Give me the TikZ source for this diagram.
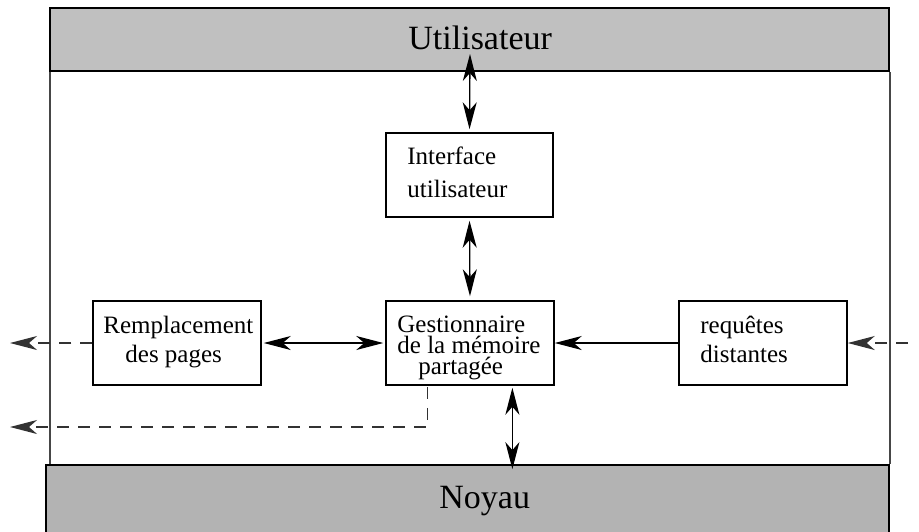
\documentclass[tikz,border=0pt]{standalone}
\usepackage{fontspec}
\setmainfont{Liberation Serif}
\usetikzlibrary{arrows.meta,calc}
\definecolor{userfill}{RGB}{192,192,192}
\definecolor{kernfill}{RGB}{179,179,179}
\definecolor{framegray}{RGB}{70,70,70}
\definecolor{dashgray}{RGB}{50,50,50}
\begin{document}
\begin{tikzpicture}[x=0.5pt,y=-0.5pt,
  >={Stealth[length=13.5pt,width=7pt,inset=4pt]},
  band/.style={draw, line width=0.9pt, inner sep=0pt},
  module/.style={draw, line width=0.75pt, fill=white, inner sep=0pt,
                 minimum width=84pt, minimum height=42pt},
  txt/.style={anchor=base west, inner sep=0pt, font=\fontsize{12.5}{15}\selectfont},
  bandtxt/.style={anchor=base west, inner sep=0pt, font=\fontsize{17}{20}\selectfont},
  flow/.style={line width=0.65pt},
  remote/.style={line width=0.65pt, dashgray, dash pattern=on 6pt off 4.5pt}]
\clip (0,0) rectangle (919,531);

% user and kernel bands
\node[band, fill=userfill, minimum width=419.5pt, minimum height=31.5pt] (util) at (469.5,39.5) {};
\node[band, fill=kernfill, minimum width=421.5pt, minimum height=37.5pt] (noyau) at (467.5,502.5) {};
\node[bandtxt] (utiltxt) at (408,49) {Utilisateur};
\node[bandtxt] (noyautxt) at (439,508) {Noyau};

% side walls of the module area
\draw[framegray, line width=0.8pt] (util.south west) ++(1,0) coordinate (wallL) -- (wallL |- noyau.north);
\draw[framegray, line width=0.8pt] (util.south east) -- (util.south east |- noyau.north);

% modules
\node[module, minimum width=83.5pt] (iface) at (469.5,175) {};
\node[module] (gest)  at (470,343) {};
\node[module] (rempl) at (177,343) {};
\node[module] (req)   at (763,343) {};

\node[txt] (ifaceA) at (407,164) {Interface};
\node[txt] (ifaceB) at (407,197) {utilisateur};
\node[txt] (gestA) at (397,332.5) {Gestionnaire};
\node[txt] (gestB) at (397,353.5) {de la mémoire};
\node[txt] (gestC) at (418,374.5) {partagée};
\node[txt] (remplA) at (103,333) {Remplacement};
\node[txt] (remplB) at (125,362) {des pages};
\node[txt] (reqA) at (700,333) {requêtes};
\node[txt] (reqB) at (700,362.5) {distantes};

% connection points
\coordinate (userport) at (470,54);
\coordinate (outR) at (908,343);
\coordinate (outL) at (10,343);
\coordinate (outL2) at (10,427);
\coordinate (gtapA) at ($(gest.south west)!0.25!(gest.south east)$);
\coordinate (gtapB) at ($(gest.south west)!0.75!(gest.south east)$);

% solid links
\draw[flow,<->,shorten >=1.5pt] (userport) -- (iface.north);
\draw[flow,<->,shorten <=1.5pt,shorten >=2pt] (iface.south) -- (gest.north);
\draw[flow,<->,shorten <=1pt,shorten >=1pt] (rempl.east) -- (gest.west);
\draw[flow,->] (req.west) -- (gest.east);
\draw[flow,<->,shorten <=1pt,shorten >=-2.5pt] (gtapB) -- (gtapB |- noyau.north);

% remote (dashed) links
\draw[remote,->] (outR) -- (req.east);
\draw[remote,->] (rempl.west) -- (outL);
\draw[remote,->] (gtapA) ++(0,1) |- (outL2);
\end{tikzpicture}
\end{document}
